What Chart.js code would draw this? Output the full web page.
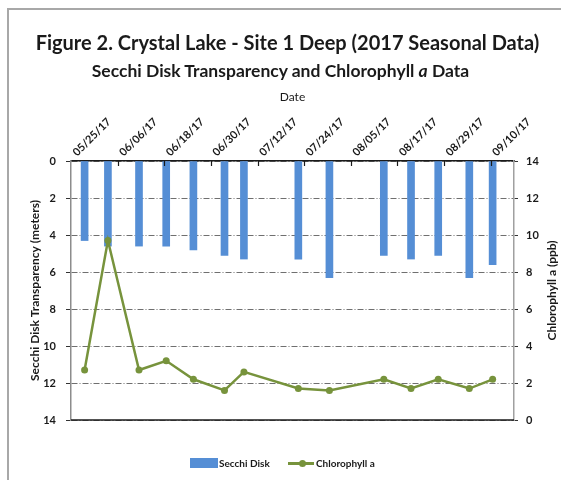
<!DOCTYPE html>
<html>
<head>
<meta charset="utf-8">
<script src="https://cdn.jsdelivr.net/npm/chart.js@4.4.0/dist/chart.umd.min.js"></script>
<style>
  html, body { margin: 0; padding: 0; background: #fff; }
  #wrap { position: relative; width: 561px; height: 480px; overflow: hidden; font-family: Lato, sans-serif; color: #1a1a1a; }
  #frame { position: absolute; left: 7px; top: 8px; width: 600px; height: 600px; border-left: 2px solid #a8a8a8; border-top: 2px solid #a8a8a8; }
  #chart { position: absolute; left: 0; top: 0; }
  .title { position: absolute; left: 0; width: 561px; text-align: center; font-weight: bold; white-space: nowrap; }
  #t1 { top: 30px; font-size: 20px; padding-left: 7px; }
  #t2 { top: 60px; font-size: 17.5px; padding-left: 0; }
  .leg { position: absolute; font-size: 10px; font-weight: bold; line-height: 12px; white-space: nowrap; }
  #legBar { position: absolute; left: 190px; top: 458px; width: 28px; height: 10px; background: #558ed5; }
  #legLine { position: absolute; left: 288px; top: 462px; width: 26px; height: 2.5px; background: #77933c; }
  #legDot { position: absolute; left: 299px; top: 460px; width: 7px; height: 7px; border-radius: 50%; background: #77933c; }
</style>
</head>
<body>
<div id="wrap">
  <div id="frame"></div>
  <canvas id="chart" width="561" height="480"></canvas>
  <div class="title" id="t1">Figure 2. Crystal Lake - Site 1 Deep (2017 Seasonal Data)</div>
  <div class="title" id="t2">Secchi Disk Transparency and Chlorophyll <i>a</i> Data</div>
  <div id="legBar"></div>
  <div class="leg" style="left:219px; top:457px;">Secchi Disk</div>
  <div id="legLine"></div><div id="legDot"></div>
  <div class="leg" style="left:316px; top:457px;">Chlorophyll a</div>
</div>
<script>
// --- data ---
const sampleDates = ['05/28/17', '06/03/17', '06/11/17', '06/18/17', '06/25/17', '07/03/17', '07/08/17',
                     '07/22/17', '07/30/17', '08/13/17', '08/20/17', '08/27/17', '09/04/17', '09/10/17'];
const secchiDepth = [4.3, 4.6, 4.6, 4.6, 4.8, 5.1, 5.3, 5.3, 6.3, 5.1, 5.3, 5.1, 6.3, 5.6];
const chlorophyllA = [2.7, 9.7, 2.7, 3.2, 2.2, 1.6, 2.6, 1.7, 1.6, 2.2, 1.7, 2.2, 1.7, 2.2];

const dateTicks = ['05/25/17', '06/06/17', '06/18/17', '06/30/17', '07/12/17',
                   '07/24/17', '08/05/17', '08/17/17', '08/29/17', '09/10/17'];
const dateAxisEnd = '09/16/17';
const depthTicks = [0, 2, 4, 6, 8, 10, 12, 14];
const chlTicks = [0, 2, 4, 6, 8, 10, 12, 14];

// days since first tick date
const toUTC = (s) => {
    const [m, d, y] = s.split('/').map(Number);
    return Date.UTC(2000 + y, m - 1, d);
};
const origin = toUTC(dateTicks[0]);
const dayOf = (s) => (toUTC(s) - origin) / 864e5;
const fmtDay = (v) => {
    const dt = new Date(origin + Math.round(v) * 864e5);
    const p = (n) => String(n).padStart(2, '0');
    return `${p(dt.getUTCMonth() + 1)}/${p(dt.getUTCDate())}/${p(dt.getUTCFullYear() % 100)}`;
};
// samples sit in the middle of their day slot
const secchiPts = sampleDates.map((d, i) => ({ x: dayOf(d) + 0.5, y: secchiDepth[i] }));
const chlPts = sampleDates.map((d, i) => ({ x: dayOf(d) + 0.5, y: chlorophyllA[i] }));

const ink = '#1a1a1a';
const tickFont = { family: 'Lato', size: 11, weight: 'bold' };

// inside tick marks on the date axis, solid bottom edge, right axis title
const extras = {
    id: 'extras',
    afterDraw(chart) {
        const { ctx, chartArea: a, scales } = chart;
        ctx.save();
        ctx.strokeStyle = ink;
        ctx.lineWidth = 1.5;
        ctx.beginPath();
        ctx.moveTo(a.left, a.bottom);
        ctx.lineTo(a.right, a.bottom);
        ctx.stroke();
        ctx.lineWidth = 1.2;
        scales.x.ticks.forEach(t => {
            const px = Math.round(scales.x.getPixelForValue(t.value)) + 0.5;
            if (px <= a.left + 1) return;
            ctx.beginPath();
            ctx.moveTo(px, a.top);
            ctx.lineTo(px, a.top + 5);
            ctx.stroke();
        });
        ctx.translate(552, (a.top + a.bottom) / 2);
        ctx.rotate(-Math.PI / 2);
        ctx.fillStyle = ink;
        ctx.font = 'bold 12px Lato';
        ctx.textAlign = 'center';
        ctx.textBaseline = 'middle';
        ctx.fillText('Chlorophyll a (ppb)', 0, 0);
        ctx.restore();
    }
};

new Chart(document.getElementById('chart'), {
    type: 'bar',
    data: {
        datasets: [
            {
                type: 'line', label: 'Chlorophyll a', data: chlPts, yAxisID: 'y1', order: 0,
                borderColor: '#77933c', backgroundColor: '#77933c', borderWidth: 2.5,
                pointRadius: 3.5, pointBackgroundColor: '#77933c', pointBorderWidth: 0, tension: 0
            },
            {
                label: 'Secchi Disk', data: secchiPts, yAxisID: 'y', order: 1,
                backgroundColor: '#558ed5', barThickness: 7
            }
        ]
    },
    options: {
        responsive: false,
        animation: false,
        devicePixelRatio: 1,
        layout: { padding: { top: 90, left: 20, right: 0, bottom: 60 } },
        plugins: { legend: { display: false }, tooltip: { enabled: false } },
        scales: {
            x: {
                type: 'linear', position: 'top', offset: false,
                min: 0, max: dayOf(dateAxisEnd),
                afterBuildTicks: (s) => { s.ticks = dateTicks.map(d => ({ value: dayOf(d) })); },
                afterFit: (s) => { s.height = 71; },
                ticks: { callback: (v) => fmtDay(v), minRotation: 45, maxRotation: 45, autoSkip: false,
                         font: tickFont, color: ink, padding: 2, labelOffset: 13 },
                grid: { display: false, drawTicks: false },
                border: { display: true, color: ink, width: 1.5 },
                title: { display: true, text: 'Date', color: ink, font: { family: 'Lato', size: 12 }, padding: { top: 0, bottom: 4 } }
            },
            y: {
                position: 'left', reverse: true, min: 0, max: 14,
                afterBuildTicks: (s) => { s.ticks = depthTicks.map(v => ({ value: v })); },
                afterFit: (s) => { s.width = 51; },
                ticks: { font: tickFont, color: ink, padding: 10 },
                grid: { color: '#6f6f6f', lineWidth: 1, tickLength: 5, tickColor: '#333' },
                border: { color: '#8c8c8c', width: 1.5, dash: [6, 2, 1, 2] },
                title: { display: true, text: 'Secchi Disk Transparency (meters)', color: ink,
                         font: { family: 'Lato', size: 12, weight: 'bold' }, padding: { top: 8, bottom: 0 } }
            },
            y1: {
                position: 'right', min: 0, max: 14,
                afterBuildTicks: (s) => { s.ticks = chlTicks.map(v => ({ value: v })); },
                afterFit: (s) => { s.width = 47; },
                ticks: { font: tickFont, color: ink, padding: 8 },
                grid: { drawOnChartArea: false, tickLength: 4, tickColor: '#333' },
                border: { color: '#a0a0a0', width: 1.5 }
            }
        }
    },
    plugins: [extras]
});
</script>
</body>
</html>
